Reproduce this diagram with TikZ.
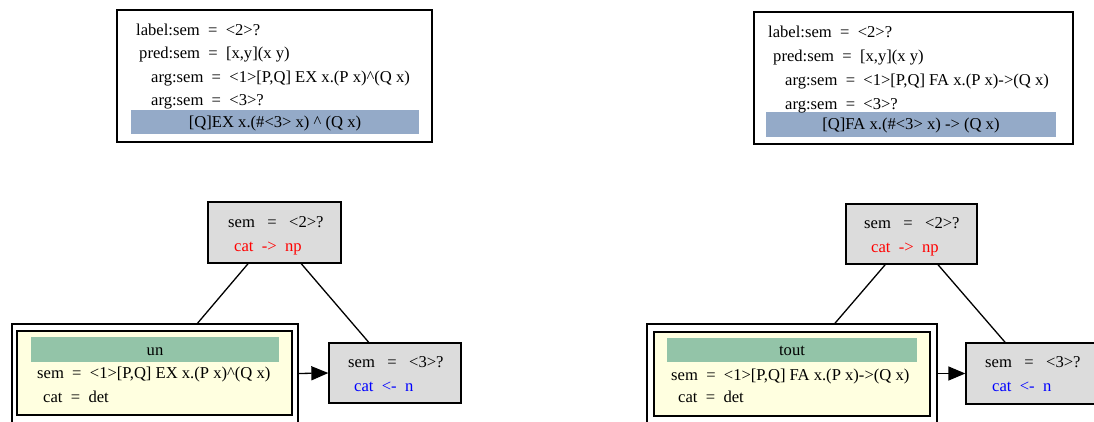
\documentclass[tikz,border=0pt]{standalone}
\usepackage{fontspec}
\setmainfont{Liberation Serif}
\usetikzlibrary{arrows.meta}
\definecolor{barblue}{HTML}{94AAC8}
\definecolor{bargreen}{HTML}{93C4A8}
\definecolor{fsyellow}{HTML}{FFFFE0}
\definecolor{boxgray}{HTML}{DCDCDC}
\definecolor{catred}{HTML}{FF0000}
\definecolor{catblue}{HTML}{0000FF}
\begin{document}
\begin{tikzpicture}[x=1pt,y=-1pt,
  txtfont/.style={font=\fontsize{16.6}{20}\selectfont},
  txt/.style={txtfont,anchor=base west,inner sep=0pt},
  frame/.style={draw,line width=1.3pt,inner sep=0pt,fill=white},
  graybox/.style={draw,line width=1.3pt,inner sep=0pt,fill=boxgray},
  bluebar/.style={fill=barblue,inner sep=0pt,txtfont,text height=12pt,text depth=1pt},
  greenbar/.style={fill=bargreen,inner sep=0pt,txtfont,text height=12pt,text depth=1pt},
  yellowbox/.style={draw,line width=1.3pt,inner sep=0pt,fill=fsyellow},
  outerbox/.style={draw,line width=1.3pt,inner sep=0pt},
  edge/.style={line width=1.3pt},
  arr/.style={line width=1.3pt,-{Triangle[length=17pt,width=14pt]}},
  red/.style={text=catred},
  blue/.style={text=catblue}
]
\useasboundingbox (0,0) rectangle (1094,422);

% ---------- top left box ----------
\node[frame,minimum width=315pt,minimum height=132pt] (tlbox) at (274.5,76) {};
\node[bluebar,minimum width=288pt,minimum height=24pt] (tlbar) at (275,122.5) {[Q]EX x.(\#<3> x) \textasciicircum{} (Q x)};
\node[txt] (tl1) at (136,35.5) {label:sem\ \ =\ \ <2>?};
\node[txt] (tl2) at (139,58.5) {pred:sem\ \ =\ \ [x,y](x y)};
\node[txt] (tl3) at (151,82.5) {arg:sem\ \ =\ \ <1>[P,Q] EX x.(P x)\textasciicircum(Q x)};
\node[txt] (tl4) at (151,105.5) {arg:sem\ \ =\ \ <3>?};

% ---------- top right box ----------
\node[frame,minimum width=319pt,minimum height=132pt] (trbox) at (913.5,78) {};
\node[bluebar,minimum width=290pt,minimum height=25pt] (trbar) at (911,124.5) {[Q]FA x.(\#<3> x) -> (Q x)};
\node[txt] (tr1) at (768,37.5) {label:sem\ \ =\ \ <2>?};
\node[txt] (tr2) at (773,61.5) {pred:sem\ \ =\ \ [x,y](x y)};
\node[txt] (tr3) at (785,85.5) {arg:sem\ \ =\ \ <1>[P,Q] FA x.(P x)->(Q x)};
\node[txt] (tr4) at (785,109.5) {arg:sem\ \ =\ \ <3>?};

% ---------- bottom left tree ----------
\node[graybox,minimum width=133pt,minimum height=61pt] (lnp) at (274.5,232.5) {};
\node[txt] (lnp1) at (228,227) {sem\ \ \ =\ \ \ <2>?};
\node[txt,red] (lnp2) at (234,251.5) {cat\ \ ->\ \ np};

\node[outerbox,minimum width=286pt,minimum height=99pt] (ldet) at (155,373.5) {};
\node[yellowbox,minimum width=275pt,minimum height=84pt] (ldetin) at (154.5,373) {};
\node[greenbar,minimum width=248pt,minimum height=25pt] (lword) at (155,349.5) {un};
\node[txt] (ldet1) at (37,378.5) {sem\ \ =\ \ <1>[P,Q] EX x.(P x)\textasciicircum(Q x)};
\node[txt] (ldet2) at (43,402) {cat\ \ =\ \ det};

\node[graybox,minimum width=132pt,minimum height=60pt] (ln) at (395,373) {};
\node[txt] (ln1) at (348,367.5) {sem\ \ \ =\ \ \ <3>?};
\node[txt,blue] (ln2) at (354,391.5) {cat\ \ <-\ \ n};

\draw[edge] (lnp) -- (ldet);
\draw[edge] (lnp) -- (ln);
\draw[arr] (ldet.east) -- (ln.west);

% ---------- bottom right tree ----------
\node[graybox,minimum width=131pt,minimum height=60pt] (rnp) at (911.5,234) {};
\node[txt] (rnp1) at (864,228.5) {sem\ \ \ =\ \ \ <2>?};
\node[txt,red] (rnp2) at (871,252.5) {cat\ \ ->\ \ np};

\node[outerbox,minimum width=290pt,minimum height=99pt] (rdet) at (792,373.5) {};
\node[yellowbox,minimum width=276pt,minimum height=84pt] (rdetin) at (792,374) {};
\node[greenbar,minimum width=250pt,minimum height=24pt] (rword) at (792,350) {tout};
\node[txt] (rdet1) at (671,380) {sem\ \ =\ \ <1>[P,Q] FA x.(P x)->(Q x)};
\node[txt] (rdet2) at (678,402) {cat\ \ =\ \ det};

\node[graybox,minimum width=132pt,minimum height=61pt] (rn) at (1032,373.5) {};
\node[txt] (rn1) at (985,367.5) {sem\ \ \ =\ \ \ <3>?};
\node[txt,blue] (rn2) at (992,391.5) {cat\ \ <-\ \ n};

\draw[edge] (rnp) -- (rdet);
\draw[edge] (rnp) -- (rn);
\draw[arr] (rdet.east) -- (rn.west);
\end{tikzpicture}
\end{document}
